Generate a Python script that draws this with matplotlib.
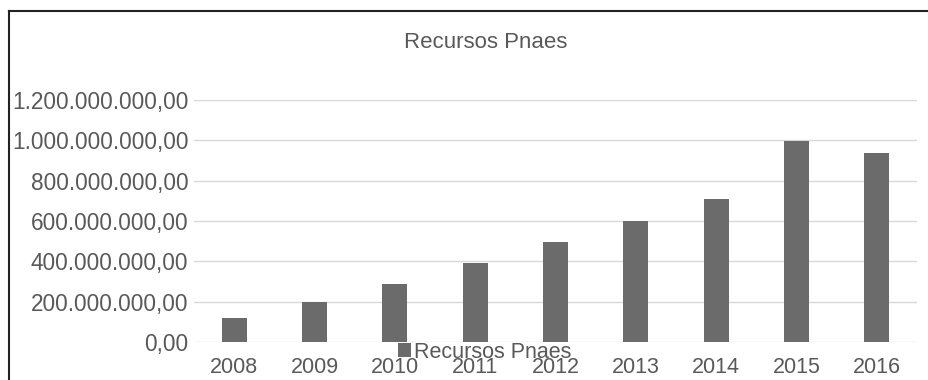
import matplotlib.pyplot as plt
from matplotlib.lines import Line2D
from matplotlib.ticker import FuncFormatter

plt.rcParams['font.family'] = ['Liberation Sans', 'DejaVu Sans']

years = ['2008', '2009', '2010', '2011', '2012', '2013', '2014', '2015', '2016']
# Recursos Pnaes (R$)
recursos = [120e6, 197e6, 288e6, 390e6, 498e6, 600e6, 708e6, 997e6, 938e6]

text_col = '#595959'
bar_col = '#6b6b6b'

fig = plt.figure(figsize=(9.29, 3.8), dpi=100)
ax = fig.add_axes([194 / 929, 1 - 342 / 380, (917 - 194) / 929, (342 - 100) / 380])

ax.bar(range(len(years)), recursos, width=0.31, color=bar_col, label='Recursos Pnaes', zorder=3)

ax.set_xlim(-0.5, len(years) - 0.5)
ax.set_ylim(0, 1.2e9)
ax.set_yticks([0, 200e6, 400e6, 600e6, 800e6, 1000e6, 1200e6])

def br_fmt(v, pos):
    s = f"{v:,.2f}"
    return s.replace(',', 'X').replace('.', ',').replace('X', '.')

ax.yaxis.set_major_formatter(FuncFormatter(br_fmt))
ax.set_xticks(range(len(years)))
ax.set_xticklabels(years)

ax.grid(axis='y', color='#d9d9d9', linewidth=1, zorder=0)
for sp in ax.spines.values():
    sp.set_visible(False)
ax.tick_params(axis='y', length=0, pad=4, labelsize=16.3, labelcolor=text_col)
ax.tick_params(axis='x', length=0, pad=11, labelsize=15.5, labelcolor=text_col)

fig.text(486 / 929, 1 - 43 / 380, 'Recursos Pnaes', ha='center', va='center',
         fontsize=16, color=text_col)

fig.legend(loc='center', bbox_to_anchor=(485 / 929, 1 - 352 / 380), frameon=False,
           fontsize=15.5, labelcolor=text_col, handlelength=0.6, handleheight=0.6,
           handletextpad=0.15, borderpad=0)

# black frame of the chart box (top and left edges visible)
fig.add_artist(Line2D([8.5 / 929, 1], [1 - 10.5 / 380, 1 - 10.5 / 380], color='#222222', linewidth=1.5))
fig.add_artist(Line2D([8.5 / 929, 8.5 / 929], [0, 1 - 10.5 / 380], color='#222222', linewidth=1.5))

fig.savefig('out.png', dpi=100)
